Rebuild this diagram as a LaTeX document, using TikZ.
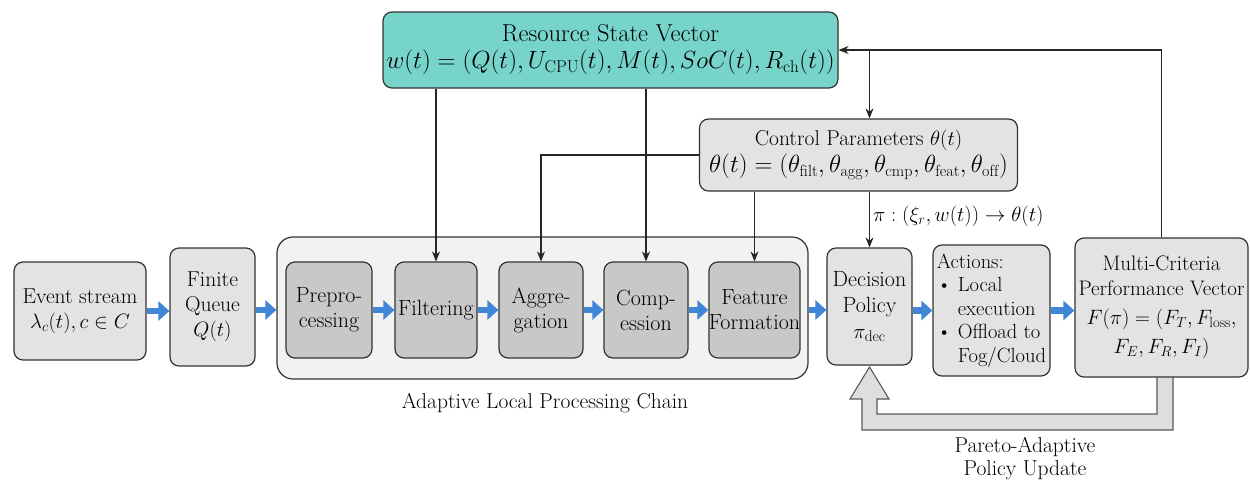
\documentclass[tikz,border=0pt]{standalone}
\usepackage{fontspec}
\setmainfont{Latin Modern Roman}
\usetikzlibrary{arrows.meta,calc}
\definecolor{boxgray}{HTML}{E3E3E3}
\definecolor{innergray}{HTML}{C8C8C8}
\definecolor{chainbg}{HTML}{F2F2F2}
\definecolor{tealbox}{HTML}{76D4CA}
\definecolor{flowblue}{HTML}{3F86D6}
\definecolor{edge}{HTML}{333333}
\definecolor{hollowfill}{HTML}{DEDEDE}
\begin{document}
\begin{tikzpicture}[x=1pt,y=-1pt,
  base/.style={draw=edge, line width=1.2pt, rounded corners=9pt, align=center,
    font=\fontsize{21.5}{25}\selectfont, inner sep=0pt},
  outerbox/.style={base, fill=boxgray},
  innerbox/.style={base, fill=innergray, font=\fontsize{22}{25}\selectfont},
  flow/.style={line width=6.5pt, draw=flowblue, -{Triangle[length=11pt,width=19pt]}},
  ctl/.style={line width=1.1pt, draw=black!85, -{Stealth[length=10pt,width=8pt]}},
  lbl/.style={font=\fontsize{21.5}{23}\selectfont, align=center, inner sep=0pt}]
\useasboundingbox (0,0) rectangle (1250,482);
% hollow feedback arrow (drawn first, boxes cover its top)
\filldraw[fill=hollowfill, draw=black!65, line width=1.1pt]
  (1157,370) -- (1157,414) -- (877,414) -- (877,399) -- (889,399) -- (869.5,367)
  -- (850,399) -- (862,399) -- (862,430) -- (1173,430) -- (1173,370) -- cycle;
% nodes
\node[base, fill=chainbg, rounded corners=16pt, minimum width=531pt, minimum height=142pt] (chain) at (542.5,308) {};
\node[outerbox, minimum width=132pt, minimum height=98pt] (ev) at (80,311)
  {Event stream\\{\fontsize{22.5}{25}\selectfont$\lambda_c(t), c\in C$}};
\node[outerbox, minimum width=85pt, minimum height=118pt] (q) at (212.5,307)
  {Finite\\Queue\\$Q(t)$};
\node[innerbox, minimum width=86pt, minimum height=96pt] (pre) at (329,310) {Prepro-\\cessing};
\node[innerbox, minimum width=82pt, minimum height=96pt] (filt) at (436,310) {Filtering};
\node[innerbox, minimum width=84pt, minimum height=96pt] (agg) at (541,310) {Aggre-\\gation};
\node[innerbox, minimum width=84pt, minimum height=96pt] (comp) at (646,310) {Comp-\\ession};
\node[innerbox, minimum width=91pt, minimum height=96pt] (feat) at (754.5,310) {Feature\\Formation};
\node[lbl] (chainlbl) at (545,403) {Adaptive Local Processing Chain};
\node[outerbox, minimum width=85pt, minimum height=117pt, font=\fontsize{22}{26}\selectfont] (dec) at (869.5,306.5)
  {Decision\\Policy\\$\pi_{\mathrm{dec}}$};
\node[outerbox, minimum width=117pt, minimum height=131pt, align=left, font=\fontsize{20.5}{23.5}\selectfont] (act) at (991.5,310.5)
  {Actions:\\\textbullet\ Local\\\hphantom{\textbullet\ }execution\\\textbullet\ Offload to\\\hphantom{\textbullet\ }Fog/Cloud};
\node[outerbox, minimum width=173pt, minimum height=139pt, font=\fontsize{21}{25}\selectfont] (multi) at (1161.5,307.5)
  {Multi-Criteria\\Performance Vector\\[4pt]$F(\pi) = (F_T, F_{\mathrm{loss}},$\\[4pt]$F_E, F_R, F_I)$};
\node[base, fill=tealbox, minimum width=455pt, minimum height=76pt, font=\fontsize{24.5}{27}\selectfont] (res) at (610.5,50)
  {Resource State Vector\\$w(t) = (Q(t), U_{\mathrm{CPU}}(t), M(t), SoC(t), R_{\mathrm{ch}}(t))$};
\node[outerbox, minimum width=318pt, minimum height=72pt, font=\fontsize{23}{27}\selectfont] (ctrl) at (858.5,155)
  {{\fontsize{21.5}{27}\selectfont Control Parameters $\theta(t)$}\\$\theta(t) = (\theta_{\mathrm{filt}}, \theta_{\mathrm{agg}}, \theta_{\mathrm{cmp}}, \theta_{\mathrm{feat}}, \theta_{\mathrm{off}})$};
\node[lbl, anchor=west] (pilbl) at (873,216) {$\pi : (\xi_r, w(t)) \to \theta(t)$};
\node[lbl] (pareto) at (1025,459) {Pareto-Adaptive\\Policy Update};
% flow arrows
\draw[flow] (ev.east) -- (ev.east -| q.west);
\draw[flow] (q.east |- pre.east) -- (pre.east -| chain.west);
\draw[flow] (pre.east) -- (filt.west);
\draw[flow] (filt.east) -- (agg.west);
\draw[flow] (agg.east) -- (comp.west);
\draw[flow] (comp.east) -- (feat.west);
\draw[flow] (feat.east -| chain.east) -- (feat.east -| dec.west);
\draw[flow] (dec.east |- act.west) -- (act.west);
\draw[flow] (act.east) -- (act.east -| multi.west);
% control arrows
\coordinate (j) at (dec.north |- res.east);
\draw[ctl] (multi.north) |- (res.east);
\draw[ctl] (j) -- (dec.north |- ctrl.north);
\draw[ctl] (dec.north |- ctrl.south) -- (dec.north);
\draw[ctl] (ctrl.west) -| (agg.north);
\draw[ctl] (feat.north |- ctrl.south) -- (feat.north);
\draw[ctl] (filt.north |- res.south) -- (filt.north);
\draw[ctl] (comp.north |- res.south) -- (comp.north);
\end{tikzpicture}
\end{document}
